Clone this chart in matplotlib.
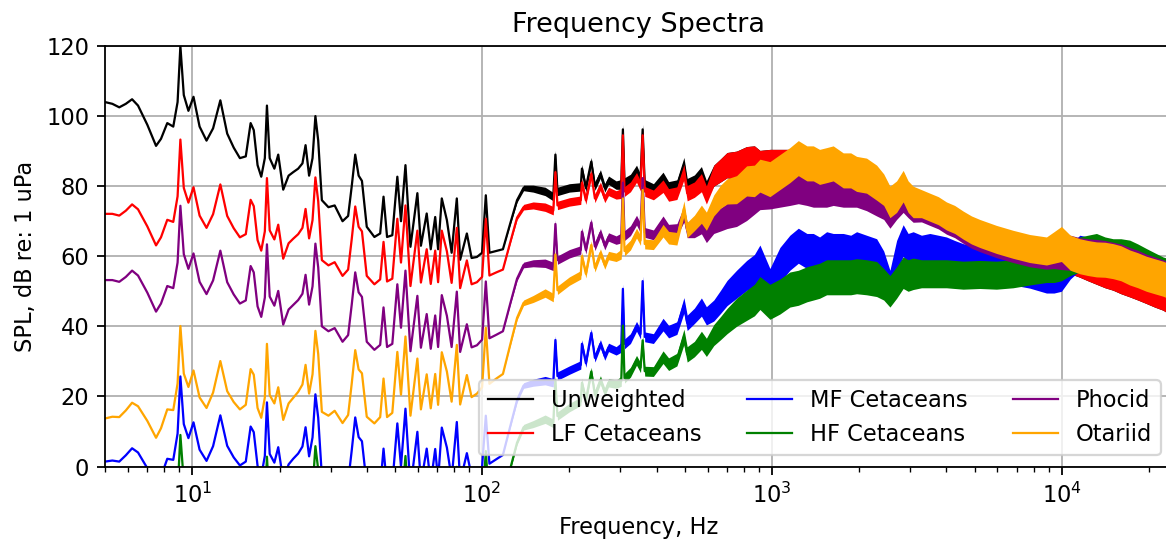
import numpy as np
import matplotlib
matplotlib.use("Agg")
import matplotlib.pyplot as plt

# Frequency grid (Hz)
freq = [5.0, 5.3, 5.6, 5.9, 6.2, 6.5, 7.0, 7.5, 7.8, 8.2,
        8.6, 8.9, 9.1, 9.35, 9.7, 10.1, 10.6, 11.2, 11.8, 12.5,
        13.2, 13.9, 14.6, 15.3, 15.9, 16.3, 16.8, 17.3, 17.8, 18.1,
        18.5, 19.2, 19.8, 20.6, 21.5, 22.3, 23.2, 24.0, 24.6, 25.3,
        26.0, 26.6, 27.2, 28.0, 29.5, 31.0, 33.0, 34.5, 35.5, 36.5,
        37.5, 38.5, 40.0, 42.5, 44.5, 45.7, 47.0, 49.0, 51.0, 52.5,
        54.4, 56.6, 59.8, 61.5, 64.4, 66.5, 68.9, 70.5, 72.6, 75.6,
        78.5, 81.8, 84.0, 88.6, 92.0, 96.0, 100.0, 103.0, 106.0, 112.0,
        118.0, 125.0, 132.0, 139.0, 150.0, 165.0, 176.0, 179.0, 182.0, 200.0,
        219.0, 221.0, 228.0, 238.0, 245.0, 256.0, 265.0, 273.0, 290.0, 302.0,
        306.0, 310.0, 325.0, 341.0, 352.0, 358.0, 364.0, 390.0, 421.0, 440.0,
        470.0, 497.0, 510.0, 540.0, 571.0, 594.0,
        630, 665, 700, 755, 818, 870, 909, 984, 1065, 1153,
        1233, 1320, 1389, 1460, 1544, 1627, 1762, 1870, 1959, 2120,
        2297, 2430, 2553, 2692, 2836, 2950, 3070, 3280, 3505, 3750,
        4000, 4270, 4566, 4880, 5213, 5950, 6792, 7754, 8852, 9400,
        9970, 10700, 11540, 12300, 13170, 14100, 15030, 16000, 17150, 18300,
        19580, 20900, 22350, 24000]

# SPL (dB re 1 uPa) per weighting
unweighted = [104.0, 103.5, 102.5, 103.5, 104.8, 103.0, 97.5, 91.5, 93.5, 98.0,
              97.0, 104.0, 120.0, 106.0, 101.5, 105.5, 97.0, 93.0, 96.5, 104.5,
              95.0, 91.0, 88.0, 88.5, 98.0, 96.0, 86.0, 82.7, 88.0, 103.0,
              88.0, 85.0, 89.0, 79.0, 83.0, 84.0, 85.0, 86.5, 91.7, 83.0,
              88.0, 100.0, 93.0, 76.0, 74.0, 74.5, 70.0, 71.5, 80.0, 89.0,
              83.0, 81.5, 68.4, 65.5, 66.5, 77.0, 65.5, 66.0, 82.7, 70.0,
              86.0, 62.7, 78.0, 63.0, 72.2, 62.0, 71.2, 62.0, 76.5, 70.3,
              61.0, 76.5, 59.0, 66.5, 59.5, 59.8, 61.0, 77.4, 61.0, 61.5,
              62.0, 69.3, 76.0, 79.5, 79.3, 78.5, 77.0, 89.0, 78.5, 79.5,
              79.8, 85.0, 79.5, 87.0, 80.0, 83.5, 79.5, 81.7, 80.3, 80.5,
              96.2, 81.0, 82.0, 84.6, 82.0, 96.2, 80.5, 79.3, 82.2, 79.5,
              80.0, 86.0, 80.0, 81.0, 83.0, 79.0,
              83.0, 84.5, 86.0, 86.0, 87.0, 87.0, 85.5, 85.5, 85.5, 85.5,
              87.5, 86.0, 86.0, 85.0, 85.5, 86.0, 84.0, 84.0, 83.0, 82.5,
              80.5, 78.5, 75.0, 76.5, 79.5, 76.5, 75.0, 74.5, 73.5, 72.5,
              71.0, 70.0, 68.4, 67.0, 66.0, 64.3, 62.9, 61.7, 61.0, 61.5,
              61.5, 60.0, 59.0, 58.0, 57.0, 56.0, 55.3, 54.3, 53.4, 52.5,
              51.5, 50.5, 49.6, 48.0]

lf_cetaceans = [72.1, 72.1, 71.6, 73.0, 74.8, 73.4, 68.5, 63.1, 65.4, 70.4,
                69.8, 77.1, 93.3, 79.5, 75.3, 79.7, 71.6, 68.1, 72.0, 80.5,
                71.5, 68.0, 65.4, 66.3, 76.1, 74.3, 64.6, 61.6, 67.1, 82.3,
                67.4, 64.8, 69.0, 59.3, 63.7, 65.0, 66.3, 68.1, 73.5, 65.1,
                70.3, 82.5, 75.7, 58.9, 57.4, 58.3, 54.4, 56.2, 64.9, 74.2,
                68.4, 67.1, 54.4, 52.0, 53.4, 64.1, 52.8, 53.6, 70.7, 58.2,
                74.5, 51.5, 67.3, 52.5, 62.0, 52.1, 61.6, 52.6, 67.3, 61.4,
                52.4, 68.1, 50.9, 58.8, 52.0, 52.6, 54.1, 70.7, 54.5, 55.4,
                56.2, 63.9, 71.0, 74.0, 74.5, 74.0, 73.0, 84.0, 74.5, 75.5,
                76.0, 81.0, 76.0, 83.5, 76.5, 80.0, 76.5, 78.5, 77.5, 77.9,
                94.5, 78.5, 79.8, 82.5, 80.0, 94.5, 78.5, 77.5, 80.0, 77.5,
                78.0, 84.0, 78.0, 79.0, 81.0, 77.5,
                83.0, 84.5, 86.0, 86.0, 87.0, 87.0, 85.5, 85.5, 85.5, 85.5,
                87.5, 86.0, 86.0, 85.0, 85.5, 86.0, 84.0, 84.0, 83.0, 82.5,
                80.5, 78.5, 75.0, 76.5, 79.5, 76.5, 75.0, 74.5, 73.5, 72.5,
                71.0, 70.0, 68.4, 67.0, 66.0, 64.3, 62.9, 61.7, 61.0, 61.5,
                61.5, 60.0, 59.0, 58.0, 57.0, 56.0, 55.3, 54.3, 53.4, 52.5,
                51.5, 50.5, 49.6, 48.0]

mf_cetaceans = [1.4, 1.7, 1.4, 3.2, 5.2, 4.0, -0.5, -5.5, -2.9, 2.2,
                1.9, 9.4, 25.7, 12.1, 8.1, 12.6, 4.8, 1.6, 5.8, 14.6,
                5.9, 2.6, 0.3, 1.4, 11.4, 9.8, 0.2, -2.7, 3.0, 18.3,
                3.6, 1.1, 5.5, -4.0, 0.6, 2.2, 3.7, 5.7, 11.2, 2.9,
                8.3, 20.6, 13.9, -2.7, -4.0, -2.8, -6.4, -4.3, 4.6, 14.0,
                8.4, 7.2, -5.3, -7.4, -5.8, 5.1, -6.0, -4.9, 12.3, 0.0,
                16.5, -6.2, 9.9, -4.8, 5.1, -4.7, 5.0, -3.9, 11.1, 5.4,
                -3.4, 12.7, -4.4, 3.8, -2.7, -1.8, 0.0, 14.5, 0.8, 2.1,
                3.3, 11.4, 18.9, 23.1, 23.9, 24.5, 23.9, 36.1, 25.8, 27.5,
                29.0, 35.0, 29.5, 38.1, 31.0, 35.0, 31.5, 34.0, 33.0, 34.0,
                50.7, 35.0, 36.5, 40.0, 37.8, 52.9, 37.0, 36.5, 40.5, 38.5,
                39.5, 46.0, 41.0, 43.0, 45.5, 43.0,
                44.5, 47.0, 49.5, 52.0, 54.5, 56.0, 58.5, 51.5, 57.5, 61.0,
                63.0, 61.5, 61.5, 60.5, 62.0, 61.5, 61.5, 61.0, 62.0, 61.0,
                60.0, 57.0, 51.5, 60.0, 64.5, 62.0, 62.5, 62.0, 62.5, 62.0,
                61.5, 60.5, 59.6, 59.0, 58.2, 56.8, 55.8, 54.9, 53.5, 54.0,
                55.0, 58.5, 61.0, 60.5, 61.0, 60.0, 59.5, 59.5, 59.0, 58.0,
                56.5, 55.5, 54.5, 54.0]

hf_cetaceans = [-16.3, -15.9, -16.1, -14.3, -12.2, -13.2, -17.6, -22.5, -19.9, -14.6,
                -14.9, -7.3, 9.0, -4.5, -8.5, -3.8, -11.6, -14.7, -10.4, -1.5,
                -10.2, -13.4, -15.6, -14.4, -4.3, -5.9, -15.4, -18.2, -12.5, 2.8,
                -11.9, -14.3, -9.8, -19.2, -14.5, -13.0, -11.3, -9.3, -3.7, -12.0,
                -6.6, 5.8, -0.9, -17.4, -18.6, -17.3, -20.8, -18.6, -9.7, -0.3,
                -5.8, -6.9, -19.4, -21.4, -19.7, -8.7, -20.3, -18.7, -1.3, -13.6,
                3.0, -19.7, -3.5, -18.3, -8.2, -18.4, -8.1, -17.0, -2.0, -7.5,
                -16.3, -0.1, -16.2, -8.9, -15.3, -14.3, -12.5, 4.4, -11.6, -10.2,
                -8.9, -0.7, 6.8, 11.2, 12.1, 13.5, 12.3, 24.6, 14.4, 16.8,
                18.6, 23.9, 18.9, 27.1, 20.5, 24.7, 21.2, 23.9, 23.5, 24.3,
                40.2, 25.2, 26.9, 30.3, 28.2, 36.0, 27.2, 27.1, 31.2, 29.2,
                30.5, 37.0, 32.0, 33.5, 36.0, 34.0,
                37.5, 39.5, 41.5, 44.0, 46.0, 47.5, 49.5, 47.0, 48.5, 50.5,
                51.0, 52.0, 52.5, 53.0, 54.0, 54.0, 54.0, 54.0, 54.3, 54.0,
                53.5, 52.0, 50.0, 52.5, 55.3, 54.5, 55.0, 55.0, 55.0, 55.0,
                55.0, 54.8, 54.6, 54.7, 54.8, 54.6, 55.0, 55.8, 56.5, 57.0,
                58.0, 59.5, 60.5, 61.0, 61.5, 60.5, 60.0, 60.0, 59.6, 58.5,
                57.2, 56.0, 54.8, 54.0]

phocid = [53.2, 53.2, 52.7, 54.1, 55.9, 54.5, 49.6, 44.2, 46.5, 51.5,
          50.9, 58.2, 74.4, 60.6, 56.4, 60.8, 52.7, 49.2, 53.1, 61.6,
          52.6, 49.1, 46.5, 47.4, 57.2, 55.4, 45.7, 42.7, 48.2, 63.4,
          48.5, 45.9, 50.1, 40.5, 44.8, 46.1, 47.5, 49.3, 54.7, 46.2,
          51.4, 63.6, 56.8, 40.0, 38.6, 39.5, 35.6, 37.5, 46.2, 55.4,
          49.7, 48.4, 35.6, 33.3, 34.7, 45.4, 34.1, 35.0, 52.0, 39.6,
          55.9, 32.9, 48.7, 33.9, 43.5, 33.6, 43.1, 34.1, 48.9, 43.0,
          34.1, 49.9, 32.7, 40.6, 34.0, 34.6, 36.2, 52.8, 36.6, 37.6,
          38.6, 46.4, 53.6, 57.5, 58.0, 58.0, 57.1, 69.2, 58.9, 60.7,
          61.8, 67.0, 61.8, 69.6, 62.8, 66.7, 63.0, 65.5, 64.6, 65.2,
          81.0, 65.9, 67.3, 70.3, 68.0, 82.3, 66.8, 66.1, 69.7, 67.3,
          67.5, 72.0, 67.5, 67.5, 69.0, 66.5,
          69.5, 70.5, 71.5, 72.5, 74.5, 76.5, 78.0, 78.5, 79.0, 79.5,
          80.0, 79.5, 79.0, 79.0, 79.0, 79.5, 79.0, 79.0, 79.0, 78.0,
          76.5, 75.0, 72.5, 75.0, 77.0, 75.5, 74.2, 73.8, 72.8, 71.8,
          70.3, 69.3, 67.7, 66.3, 65.3, 63.6, 62.2, 61.0, 60.3, 61.0,
          61.2, 61.0, 60.3, 60.0, 59.8, 59.5, 59.0, 58.5, 57.5, 56.7,
          55.6, 54.8, 54.0, 53.0]

otariid = [13.7, 14.2, 14.1, 16.0, 18.2, 17.2, 13.0, 8.2, 10.9, 16.3,
           16.1, 23.7, 40.1, 26.5, 22.7, 27.4, 19.7, 16.7, 21.1, 30.1,
           21.5, 18.4, 16.3, 17.6, 27.8, 26.2, 16.7, 13.9, 19.7, 35.0,
           20.4, 18.0, 22.6, 13.3, 18.0, 19.6, 21.3, 23.4, 29.0, 20.8,
           26.3, 38.7, 32.1, 15.6, 14.5, 15.9, 12.4, 14.7, 23.7, 33.2,
           27.7, 26.6, 14.2, 12.3, 14.1, 25.1, 14.1, 15.3, 32.7, 20.5,
           37.1, 14.5, 30.8, 16.3, 26.3, 16.6, 26.4, 17.6, 32.6, 27.1,
           18.5, 34.7, 17.7, 26.1, 19.8, 20.8, 22.6, 39.6, 23.6, 25.1,
           26.4, 34.7, 42.4, 46.7, 47.8, 49.5, 48.2, 60.5, 50.3, 52.9,
           54.7, 60.0, 55.0, 63.2, 56.7, 60.9, 57.5, 60.2, 59.7, 60.6,
           76.5, 61.5, 63.2, 66.6, 64.5, 78.9, 63.5, 63.3, 67.3, 65.3,
           65.0, 73.6, 67.5, 69.5, 72.0, 70.0,
           74.5, 77.0, 78.5, 79.0, 81.5, 81.5, 83.0, 82.0, 84.0, 86.0,
           88.0, 86.5, 86.5, 85.5, 86.0, 86.5, 84.5, 84.5, 83.5, 83.0,
           81.0, 79.0, 75.5, 77.0, 80.0, 77.0, 75.5, 75.0, 74.0, 73.0,
           71.5, 70.5, 68.9, 67.5, 66.5, 64.8, 63.4, 62.2, 61.5, 62.5,
           63.5, 61.0, 60.0, 59.5, 59.1, 59.0, 58.6, 58.0, 56.8, 56.0,
           55.0, 54.3, 53.6, 52.5]

# half-width (dB) of the FFT noise band around each curve
noise = ([0.0] * 81 +
         [0.3, 0.6, 0.8, 1.0] + [1.2] * 14 + [1.4] * 9 +
         [1.8] * 3 + [2.2] * 3 + [2.6] * 2 +
         [3.0, 3.3, 3.6, 4.0, 4.3, 4.5, 4.7, 5.0, 5.0, 5.0,
          5.0, 5.0, 5.0, 5.0, 5.0, 5.0, 5.0, 5.0, 5.0, 5.0,
          5.0, 4.5, 4.5, 4.5, 4.5, 4.5, 4.5, 4.0, 4.0, 4.0,
          4.0, 4.0, 4.0, 4.0, 4.0, 4.0, 4.0, 4.0, 4.0, 4.5,
          5.0, 5.0, 5.0, 5.0, 5.0, 5.0, 5.0, 5.0, 5.0, 5.0,
          5.0, 5.0, 5.0, 5.0])

series = [("Unweighted", unweighted, "black"),
          ("LF Cetaceans", lf_cetaceans, "red"),
          ("MF Cetaceans", mf_cetaceans, "blue"),
          ("HF Cetaceans", hf_cetaceans, "green"),
          ("Phocid", phocid, "purple"),
          ("Otariid", otariid, "orange")]

f = np.array(freq)
w = np.array(noise)

fig = plt.figure(figsize=(1166 / 162, 542 / 162), dpi=162)
# axes run a little past the right edge, like the cropped original
ax = fig.add_axes([105 / 1166, 75.5 / 542, 1067 / 1166, 420.5 / 542])

for name, vals, color in series:
    v = np.array(vals)
    ax.fill_between(f, v - w, v + w, color=color, lw=0, zorder=2)
    ax.plot(f, v, color=color, lw=1.0, label=name, zorder=2)

ax.set_xscale("log")
ax.set_xlim(5, 24000)
ax.set_ylim(0, 120)
ax.grid(True)
ax.set_title("Frequency Spectra")
ax.set_xlabel("Frequency, Hz")
ax.set_ylabel("SPL, dB re: 1 uPa")
ax.legend(ncol=3, loc="lower right")

fig.savefig("out.png", dpi=162)
